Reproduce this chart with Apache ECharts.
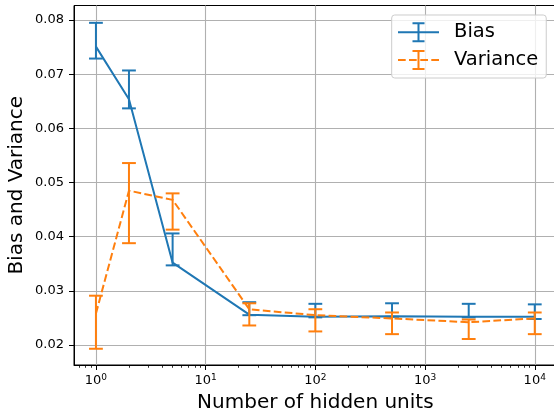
<!DOCTYPE html>
<html>
<head>
<meta charset="utf-8">
<script src="https://cdn.jsdelivr.net/npm/echarts@6/dist/echarts.min.js"></script>
<style>
html,body{margin:0;padding:0;background:#fff;}
#chart{width:554px;height:419px;}
</style>
</head>
<body>
<div id="chart"></div>
<script>
// Data
const hiddenUnits = [1, 2, 5, 25, 100, 500, 2500, 10000];
const bias     = [0.0751, 0.0654, 0.0352, 0.0256, 0.0252, 0.0253, 0.0252, 0.0252];
const biasLow  = [0.0729, 0.0637, 0.0347, 0.0255, 0.0251, 0.0252, 0.0251, 0.0248];
const biasHigh = [0.0795, 0.0707, 0.0406, 0.0279, 0.0276, 0.0277, 0.0276, 0.0275];
const variance = [0.0258, 0.0485, 0.0468, 0.0266, 0.0255, 0.0249, 0.0242, 0.0249];
const varLow   = [0.0193, 0.0388, 0.0413, 0.0236, 0.0225, 0.0220, 0.0211, 0.0220];
const varHigh  = [0.0291, 0.0536, 0.0480, 0.0277, 0.0266, 0.0260, 0.0247, 0.0260];
const yTicks = [0.02, 0.03, 0.04, 0.05, 0.06, 0.07, 0.08];
const xTicks = [1, 10, 100, 1000, 10000];
const xMinorTicks = [0.7, 0.8, 0.9, 2, 3, 4, 5, 6, 7, 8, 9, 20, 30, 40, 50, 60, 70, 80, 90,
  200, 300, 400, 500, 600, 700, 800, 900, 2000, 3000, 4000, 5000, 6000, 7000, 8000, 9000];

const BLUE = '#1f77b4', ORANGE = '#ff7f0e';
const FONT = 'DejaVu Sans';

function errRender(color) {
  return function (params, api) {
    const x = api.value(0), lo = api.value(1), hi = api.value(2);
    const pLo = api.coord([x, lo]);
    const pHi = api.coord([x, hi]);
    const half = 6.9;
    const style = { stroke: color, lineWidth: 2, fill: null };
    return {
      type: 'group',
      children: [
        { type: 'line', shape: { x1: pLo[0], y1: pLo[1], x2: pHi[0], y2: pHi[1] }, style: style },
        { type: 'line', shape: { x1: pLo[0] - half, y1: pLo[1], x2: pLo[0] + half, y2: pLo[1] }, style: style },
        { type: 'line', shape: { x1: pHi[0] - half, y1: pHi[1], x2: pHi[0] + half, y2: pHi[1] }, style: style }
      ]
    };
  };
}

const biasIcon = 'path://M0,9h41v2h-41z M19.5,0h2v20h-2z M14.5,0h12v2h-12z M14.5,18h12v2h-12z';
const varIcon = 'path://M0,9h7.7v2h-7.7z M11,9h7.7v2h-7.7z M22.3,9h7.7v2h-7.7z M33.3,9h7.7v2h-7.7z M19.5,0h2v20h-2z M14.5,0h12v2h-12z M14.5,18h12v2h-12z';

const chart = echarts.init(document.getElementById('chart'), null, { renderer: 'canvas' });
const option = {
  animation: false,
  textStyle: { fontFamily: FONT },
  grid: {
    left: 74, top: 5.5, width: 482.7, height: 359.5,
    outerBoundsMode: 'none', containLabel: false,
    show: true, borderColor: '#000', borderWidth: 1, backgroundColor: 'transparent'
  },
  legend: {
    orient: 'vertical',
    left: 391.7, top: 15,
    padding: [7.3, 8, 8, 6.3],
    itemWidth: 41, itemHeight: 20, itemGap: 7.7,
    backgroundColor: 'rgba(255,255,255,0.8)',
    borderColor: '#cccccc', borderWidth: 1, borderRadius: 3,
    itemStyle: { borderWidth: 0 },
    textStyle: { fontFamily: FONT, fontSize: 19.5, color: '#000', padding: [0, 0, 0, 10], lineHeight: 20 },
    data: [
      { name: 'Bias', icon: biasIcon },
      { name: 'Variance', icon: varIcon }
    ]
  },
  xAxis: [{
    type: 'log', logBase: 10, min: 0.631, max: 15849,
    name: 'Number of hidden units', nameLocation: 'middle', nameGap: 28, nameMoveOverlap: false,
    nameTextStyle: { fontFamily: FONT, fontSize: 20, color: '#000' },
    axisLine: { lineStyle: { color: '#000', width: 1 } },
    axisTick: { show: true, length: 5, lineStyle: { color: '#000', width: 1 }, customValues: xTicks },
    axisLabel: {
      customValues: xTicks, margin: 8, color: '#000',
      formatter: function (v) { return '{b|10}{s|' + Math.round(Math.log10(v)) + '}'; },
      rich: {
        b: { fontFamily: FONT, fontSize: 13, color: '#000' },
        s: { fontFamily: FONT, fontSize: 9, color: '#000', padding: [0, 0, 7, 0] }
      }
    },
    splitLine: { show: true, lineStyle: { color: '#b0b0b0', width: 1.1 } }
  }, {
    type: 'log', logBase: 10, min: 0.631, max: 15849, position: 'bottom',
    axisLine: { show: false },
    axisTick: { show: true, length: 2.8, lineStyle: { color: '#000', width: 0.8 }, customValues: xMinorTicks },
    axisLabel: { show: false },
    splitLine: { show: false }
  }],
  yAxis: {
    type: 'value', min: 0.0163, max: 0.0827,
    name: 'Bias and Variance', nameLocation: 'middle', nameGap: 47, nameRotate: 90, nameMoveOverlap: false,
    nameTextStyle: { fontFamily: FONT, fontSize: 20, color: '#000' },
    axisLine: { show: true, lineStyle: { color: '#000', width: 1 } },
    axisTick: { show: true, length: 5, lineStyle: { color: '#000', width: 1 }, customValues: yTicks },
    axisLabel: {
      customValues: yTicks, margin: 10, color: '#000', fontFamily: FONT, fontSize: 13,
      formatter: function (v) { return v.toFixed(2); }
    },
    splitLine: { show: true, lineStyle: { color: '#b0b0b0', width: 1.1 } }
  },
  series: [
    {
      name: 'Bias', type: 'line', symbol: 'none', z: 3,
      itemStyle: { color: BLUE },
      lineStyle: { color: BLUE, width: 2 },
      data: hiddenUnits.map((x, i) => [x, bias[i]])
    },
    {
      name: 'BiasErr', type: 'custom', z: 3,
      renderItem: errRender(BLUE),
      encode: { x: 0, y: [1, 2] },
      data: hiddenUnits.map((x, i) => [x, biasLow[i], biasHigh[i]])
    },
    {
      name: 'Variance', type: 'line', symbol: 'none', z: 4,
      itemStyle: { color: ORANGE },
      lineStyle: { color: ORANGE, width: 2, type: [7.7, 3.3] },
      data: hiddenUnits.map((x, i) => [x, variance[i]])
    },
    {
      name: 'VarErr', type: 'custom', z: 4,
      renderItem: errRender(ORANGE),
      encode: { x: 0, y: [1, 2] },
      data: hiddenUnits.map((x, i) => [x, varLow[i], varHigh[i]])
    }
  ]
};
chart.setOption(option);
</script>
</body>
</html>
